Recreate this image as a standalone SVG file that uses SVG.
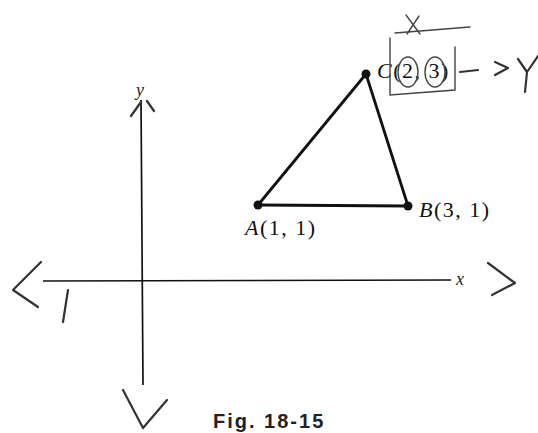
<svg xmlns="http://www.w3.org/2000/svg" width="538" height="433" viewBox="0 0 538 433">
<style>
.axis{stroke:#111;stroke-width:1.7;fill:none}
.edge{stroke:#111;stroke-width:2.8;fill:none;stroke-linecap:round}
.dot{fill:#111}
.lbl{font-family:"Liberation Serif",serif;font-size:22px;fill:#111;letter-spacing:1.5px}
.ax{font-family:"Liberation Serif",serif;font-size:18px;font-style:italic;fill:#222}
.hand{stroke:#333;stroke-width:2.2;fill:none;stroke-linecap:round;stroke-linejoin:round}
.thin{stroke:#444;stroke-width:1.4;fill:none;stroke-linecap:round}
.cap{font-family:"Liberation Sans",Arial,sans-serif;font-size:20px;font-weight:bold;fill:#222;letter-spacing:2px}
</style>
<rect width="538" height="433" fill="#fff"/>
<g id="axes">
<line class="axis" x1="43" y1="281" x2="451" y2="280"/>
<line class="axis" x1="141" y1="100" x2="143" y2="385"/>
<text class="ax" x="136" y="96">y</text>
<text class="ax" x="456" y="285">x</text>
</g>
<g id="connectors">
<line class="edge" x1="258" y1="205" x2="366" y2="74"/>
<line class="edge" x1="366" y1="74" x2="408" y2="206"/>
<line class="edge" x1="258" y1="205" x2="408" y2="206"/>
</g>
<g id="A">
<circle class="dot" cx="258" cy="205" r="4.5"/>
<text class="lbl" x="245" y="235"><tspan font-style="italic">A</tspan>(1, 1)</text>
</g>
<g id="B">
<circle class="dot" cx="408" cy="206" r="4.5"/>
<text class="lbl" x="419" y="217"><tspan font-style="italic">B</tspan>(3, 1)</text>
</g>
<g id="C">
<circle class="dot" cx="366" cy="74" r="4.5"/>
<text class="lbl" x="377" y="78"><tspan font-style="italic">C</tspan>(2, 3)</text>
</g>
<g id="handwriting">
<path class="hand" d="M131 116 L141 102 M147 101 L154 111"/>
<path class="hand" d="M41 262 L13 290 L38 307"/>
<path class="hand" d="M68 290 L63 322"/>
<path class="hand" d="M488 263 L515 283 L492 295"/>
<path class="hand" d="M123 390 L143 428 L167 400"/>
<path class="thin" d="M406 15 L420 34 M419 16 L407 34"/>
<path class="thin" d="M395 33 L470 27"/>
<path class="thin" d="M390 38 L390 95 L455 90 L455 47"/>
<ellipse class="thin" cx="408" cy="72" rx="10" ry="15"/>
<ellipse class="thin" cx="435" cy="72" rx="10" ry="15"/>
<path class="hand" d="M460 72 L478 70 M495 62 L508 68 L495 75"/>
<path class="hand" d="M518 59 L527 72 M538 56 L527 72 L525 92"/>
</g>
<text class="cap" x="213" y="428">Fig. 18-15</text>
</svg>
